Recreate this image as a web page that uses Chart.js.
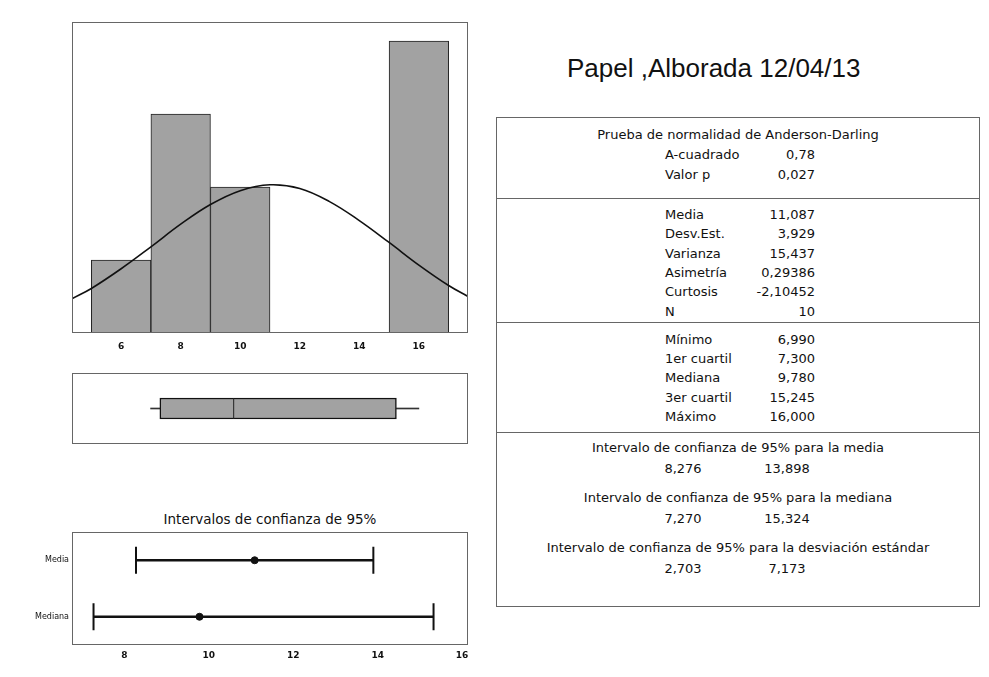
<!DOCTYPE html>
<html>
<head>
<meta charset="utf-8">
<script src="https://cdn.jsdelivr.net/npm/chart.js@4"></script>
<style>
  body { margin: 0; background: #fff; width: 989px; height: 677px; position: relative; overflow: hidden; }
  .cv { position: absolute; }
  .t { position: absolute; font-family: "DejaVu Sans", sans-serif; font-size: 13px; color: #111; white-space: nowrap; line-height: 1; }
  #title { position: absolute; left: 567px; top: 55px; font-family: "Liberation Sans", Arial, sans-serif; font-size: 26px; line-height: 1; color: #111; }
  #tbl { position: absolute; left: 496px; top: 117px; width: 484px; height: 490px; border: 1px solid #666; box-sizing: border-box; }
  .sep { position: absolute; left: 496px; width: 484px; height: 0; border-top: 1px solid #666; }
</style>
</head>
<body>
<canvas id="hist" class="cv" width="396" height="333" style="left:72px;top:22px;width:396px;height:333px"></canvas>
<canvas id="box" class="cv" width="396" height="71" style="left:72px;top:373px;width:396px;height:71px"></canvas>
<div class="t" style="left:270px;top:513px;font-size:13.5px;transform:translateX(-50%)">Intervalos de confianza de 95%</div>
<canvas id="ci" class="cv" width="448" height="140" style="left:20px;top:532px;width:448px;height:140px"></canvas>
<div id="title">Papel ,Alborada 12/04/13</div>
<div id="tbl"></div>
<div id="tbltext"></div>
<script>
// histogram
var binCenters = [6, 8, 10, 16];
var binCounts = [1, 3, 2, 4];
var histTicks = [6, 8, 10, 12, 14, 16];
// fitted normal curve
var curveX = [4.35, 5, 6, 7, 8, 9, 10, 11, 12, 13, 14, 15, 16, 17, 17.65];
var curveY = [0.47, 0.61, 0.88, 1.18, 1.49, 1.76, 1.95, 2.03, 1.98, 1.80, 1.54, 1.24, 0.93, 0.65, 0.50];
// boxplot: min, q1, median, q3, max
var boxSummary = [6.990, 7.300, 9.780, 15.245, 16.000];
// confidence intervals
var ciLabels = ['Media', 'Mediana'];
var ciLow = [8.276, 7.270];
var ciHigh = [13.898, 15.324];
var ciEst = [11.087, 9.780];
var ciTicks = [8, 10, 12, 14, 16];

// table text
var adRows = [['A-cuadrado', '0,78'], ['Valor p', '0,027']];
var momRows = [['Media', '11,087'], ['Desv.Est.', '3,929'], ['Varianza', '15,437'], ['Asimetría', '0,29386'], ['Curtosis', '-2,10452'], ['N', '10']];
var quantRows = [['Mínimo', '6,990'], ['1er cuartil', '7,300'], ['Mediana', '9,780'], ['3er cuartil', '15,245'], ['Máximo', '16,000']];
var ciRows = [
  ['Intervalo de confianza de 95% para la media', '8,276', '13,898'],
  ['Intervalo de confianza de 95% para la mediana', '7,270', '15,324'],
  ['Intervalo de confianza de 95% para la desviación estándar', '2,703', '7,173']
];

var frame = {
  id: 'frame',
  afterDraw: function(chart) {
    var a = chart.chartArea, c = chart.ctx;
    c.save();
    c.strokeStyle = '#666';
    c.lineWidth = 1;
    c.strokeRect(Math.round(a.left) + 0.5, Math.round(a.top) + 0.5, Math.round(a.right - a.left) - 1, Math.round(a.bottom - a.top) - 1);
    c.restore();
  }
};
var tickFont = { family: 'DejaVu Sans', size: 9, weight: 'bold' };
function noPad(s) { s.paddingLeft = 0; s.paddingRight = 0; s.paddingTop = 0; s.paddingBottom = 0; }

var ctx = document.getElementById('hist');
var histChart = new Chart(ctx, {
  type: 'bar',
  data: {
    datasets: [
      {
        type: 'line',
        data: curveX.map(function(x, i) { return { x: x, y: curveY[i] }; }),
        borderColor: '#111', borderWidth: 1.6, pointRadius: 0, tension: 0.4, fill: false
      },
      {
        data: binCenters.map(function(x, i) { return { x: x, y: binCounts[i] }; }),
        backgroundColor: '#a2a2a2', borderColor: '#222', borderWidth: 1,
        barPercentage: 1, categoryPercentage: 1
      }
    ]
  },
  options: {
    animation: false, responsive: false,
    layout: { padding: 0, autoPadding: false },
    plugins: { legend: { display: false }, tooltip: { enabled: false } },
    scales: {
      x: {
        type: 'linear', min: 4.35, max: 17.65, offset: false,
        grid: { display: false, drawTicks: false }, border: { display: false },
        afterBuildTicks: function(s) { s.ticks = histTicks.map(function(v) { return { value: v }; }); },
        afterFit: function(s) { s.height = 22; noPad(s); },
        ticks: { color: '#111', font: tickFont, padding: 8, maxRotation: 0 }
      },
      y: { min: 0, max: 4.26, display: false }
    }
  },
  plugins: [frame]
});

var ctx = document.getElementById('box');
var boxChart = new Chart(ctx, {
  type: 'bar',
  data: {
    labels: ['box'],
    datasets: [
      {
        type: 'line', showLine: false,
        data: [{ x: boxSummary[2], y: 'box' }],
        pointStyle: 'line', rotation: 90, pointRadius: 10.5, borderColor: '#222', borderWidth: 1
      },
      { data: [[boxSummary[1], boxSummary[3]]], backgroundColor: '#a2a2a2', borderColor: '#111', borderWidth: 1.5, borderSkipped: false, barThickness: 21, grouped: false },
      { data: [[boxSummary[0], boxSummary[1]]], backgroundColor: '#333', barThickness: 1, grouped: false },
      { data: [[boxSummary[3], boxSummary[4]]], backgroundColor: '#333', barThickness: 1, grouped: false }
    ]
  },
  options: {
    indexAxis: 'y', animation: false, responsive: false,
    layout: { padding: 0, autoPadding: false },
    plugins: { legend: { display: false }, tooltip: { enabled: false } },
    scales: {
      x: { type: 'linear', min: 4.35, max: 17.65, display: false },
      y: { display: false }
    }
  },
  plugins: [frame]
});

var ctx = document.getElementById('ci');
var ciChart = new Chart(ctx, {
  type: 'bar',
  data: {
    labels: ciLabels,
    datasets: [
      {
        type: 'line', showLine: false,
        data: ciEst.map(function(v, i) { return { x: v, y: ciLabels[i] }; }),
        pointStyle: 'circle', pointRadius: 3.5, backgroundColor: '#111', borderColor: '#111', borderWidth: 1
      },
      {
        type: 'line', showLine: false,
        data: ciLow.map(function(v, i) { return { x: v, y: ciLabels[i] }; }).concat(ciHigh.map(function(v, i) { return { x: v, y: ciLabels[i] }; })),
        pointStyle: 'line', rotation: 90, pointRadius: 13.5, borderColor: '#111', borderWidth: 2
      },
      {
        data: ciLow.map(function(v, i) { return [v, ciHigh[i]]; }),
        backgroundColor: '#111', barThickness: 2, grouped: false
      }
    ]
  },
  options: {
    indexAxis: 'y', animation: false, responsive: false,
    layout: { padding: 0, autoPadding: false },
    plugins: { legend: { display: false }, tooltip: { enabled: false } },
    scales: {
      x: {
        type: 'linear', min: 6.76, max: 16.14,
        grid: { display: false, drawTicks: false }, border: { display: false },
        afterBuildTicks: function(s) { s.ticks = ciTicks.map(function(v) { return { value: v }; }); },
        afterFit: function(s) { s.height = 27; noPad(s); },
        ticks: { color: '#111', font: tickFont, padding: 5, maxRotation: 0 }
      },
      y: {
        grid: { display: false, drawTicks: false }, border: { display: false },
        afterFit: function(s) { s.width = 52; noPad(s); },
        ticks: { color: '#111', font: { family: 'DejaVu Sans', size: 8 }, padding: 3 }
      }
    }
  },
  plugins: [frame]
});

// stats table as positioned text
var out = '';
function put(txt, x, y, align) {
  var tr = align === 'c' ? 'translateX(-50%)' : (align === 'r' ? 'translateX(-100%)' : 'none');
  out += '<div class="t" style="left:' + x + 'px;top:' + (y - 7) + 'px;transform:' + tr + '">' + txt + '</div>';
}
put('Prueba de normalidad de Anderson-Darling', 738, 135, 'c');
adRows.forEach(function(r, i) { put(r[0], 665, 155 + i * 20, 'l'); put(r[1], 815, 155 + i * 20, 'r'); });
momRows.forEach(function(r, i) { put(r[0], 665, 215 + i * 19.3, 'l'); put(r[1], 815, 215 + i * 19.3, 'r'); });
quantRows.forEach(function(r, i) { put(r[0], 665, 340 + i * 19.2, 'l'); put(r[1], 815, 340 + i * 19.2, 'r'); });
ciRows.forEach(function(r, i) {
  var y = 448 + i * 50;
  put(r[0], 738, y, 'c');
  put(r[1], 683, y + 21, 'c');
  put(r[2], 787, y + 21, 'c');
});
[198, 322, 432].forEach(function(y) { out += '<div class="sep" style="top:' + y + 'px"></div>'; });
document.getElementById('tbltext').innerHTML = out;
</script>
</body>
</html>
